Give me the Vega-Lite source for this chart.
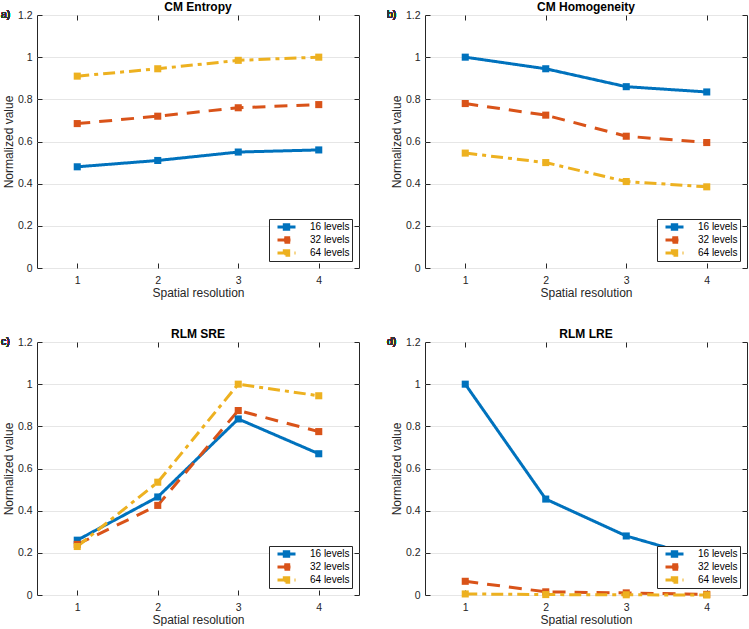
{
  "$schema": "https://vega.github.io/schema/vega-lite/v6.json",
  "background": "white",
  "padding": {"left": 0, "top": 0, "right": 0, "bottom": 0},
  "datasets": {
    "d": [
      {"metric": "CM Entropy", "levels": "16 levels", "resolution": 1, "value": 0.48},
      {"metric": "CM Entropy", "levels": "16 levels", "resolution": 2, "value": 0.51},
      {"metric": "CM Entropy", "levels": "16 levels", "resolution": 3, "value": 0.55},
      {"metric": "CM Entropy", "levels": "16 levels", "resolution": 4, "value": 0.56},
      {"metric": "CM Entropy", "levels": "32 levels", "resolution": 1, "value": 0.685},
      {"metric": "CM Entropy", "levels": "32 levels", "resolution": 2, "value": 0.72},
      {"metric": "CM Entropy", "levels": "32 levels", "resolution": 3, "value": 0.76},
      {"metric": "CM Entropy", "levels": "32 levels", "resolution": 4, "value": 0.775},
      {"metric": "CM Entropy", "levels": "64 levels", "resolution": 1, "value": 0.91},
      {"metric": "CM Entropy", "levels": "64 levels", "resolution": 2, "value": 0.945},
      {"metric": "CM Entropy", "levels": "64 levels", "resolution": 3, "value": 0.985},
      {"metric": "CM Entropy", "levels": "64 levels", "resolution": 4, "value": 1.0},
      {"metric": "CM Homogeneity", "levels": "16 levels", "resolution": 1, "value": 1.0},
      {"metric": "CM Homogeneity", "levels": "16 levels", "resolution": 2, "value": 0.945},
      {"metric": "CM Homogeneity", "levels": "16 levels", "resolution": 3, "value": 0.86},
      {"metric": "CM Homogeneity", "levels": "16 levels", "resolution": 4, "value": 0.835},
      {"metric": "CM Homogeneity", "levels": "32 levels", "resolution": 1, "value": 0.78},
      {"metric": "CM Homogeneity", "levels": "32 levels", "resolution": 2, "value": 0.725},
      {"metric": "CM Homogeneity", "levels": "32 levels", "resolution": 3, "value": 0.625},
      {"metric": "CM Homogeneity", "levels": "32 levels", "resolution": 4, "value": 0.595},
      {"metric": "CM Homogeneity", "levels": "64 levels", "resolution": 1, "value": 0.545},
      {"metric": "CM Homogeneity", "levels": "64 levels", "resolution": 2, "value": 0.5},
      {"metric": "CM Homogeneity", "levels": "64 levels", "resolution": 3, "value": 0.41},
      {"metric": "CM Homogeneity", "levels": "64 levels", "resolution": 4, "value": 0.385},
      {"metric": "RLM SRE", "levels": "16 levels", "resolution": 1, "value": 0.26},
      {"metric": "RLM SRE", "levels": "16 levels", "resolution": 2, "value": 0.465},
      {"metric": "RLM SRE", "levels": "16 levels", "resolution": 3, "value": 0.835},
      {"metric": "RLM SRE", "levels": "16 levels", "resolution": 4, "value": 0.67},
      {"metric": "RLM SRE", "levels": "32 levels", "resolution": 1, "value": 0.24},
      {"metric": "RLM SRE", "levels": "32 levels", "resolution": 2, "value": 0.425},
      {"metric": "RLM SRE", "levels": "32 levels", "resolution": 3, "value": 0.875},
      {"metric": "RLM SRE", "levels": "32 levels", "resolution": 4, "value": 0.775},
      {"metric": "RLM SRE", "levels": "64 levels", "resolution": 1, "value": 0.23},
      {"metric": "RLM SRE", "levels": "64 levels", "resolution": 2, "value": 0.535},
      {"metric": "RLM SRE", "levels": "64 levels", "resolution": 3, "value": 1.0},
      {"metric": "RLM SRE", "levels": "64 levels", "resolution": 4, "value": 0.945},
      {"metric": "RLM LRE", "levels": "16 levels", "resolution": 1, "value": 1.0},
      {"metric": "RLM LRE", "levels": "16 levels", "resolution": 2, "value": 0.455},
      {"metric": "RLM LRE", "levels": "16 levels", "resolution": 3, "value": 0.28},
      {"metric": "RLM LRE", "levels": "16 levels", "resolution": 4, "value": 0.17},
      {"metric": "RLM LRE", "levels": "32 levels", "resolution": 1, "value": 0.065},
      {"metric": "RLM LRE", "levels": "32 levels", "resolution": 2, "value": 0.015},
      {"metric": "RLM LRE", "levels": "32 levels", "resolution": 3, "value": 0.01},
      {"metric": "RLM LRE", "levels": "32 levels", "resolution": 4, "value": 0.003},
      {"metric": "RLM LRE", "levels": "64 levels", "resolution": 1, "value": 0.005},
      {"metric": "RLM LRE", "levels": "64 levels", "resolution": 2, "value": 0.002},
      {"metric": "RLM LRE", "levels": "64 levels", "resolution": 3, "value": 0.001},
      {"metric": "RLM LRE", "levels": "64 levels", "resolution": 4, "value": 0.0}
    ]
  },
  "data": {"name": "d"},
  "columns": 2,
  "spacing": {"row": 28, "column": 26},
  "resolve": {"legend": {"color": "independent", "strokeDash": "independent"}},
  "concat": [
    {
      "title": "CM Entropy",
      "width": 322, "height": 253,
      "resolve": {"axis": {"x": "independent", "y": "independent"}},
      "layer": [
        {
          "transform": [{"filter": "datum.metric === 'CM Entropy'"}],
          "mark": {"type": "line", "strokeWidth": 3, "point": {"shape": "square", "filled": true, "size": 50}},
          "encoding": {
            "x": {"field": "resolution", "type": "quantitative", "scale": {"domain": [0.5, 4.5]}, "axis": {"values": [1, 2, 3, 4], "format": "d", "title": "Spatial resolution", "grid": false, "labelPadding": 12, "titlePadding": 2}},
            "y": {"field": "value", "type": "quantitative", "scale": {"domain": [0, 1.2]}, "axis": {"values": [0, 0.2, 0.4, 0.6, 0.8, 1, 1.2], "format": "~g", "title": "Normalized value", "labelPadding": 10, "titlePadding": 2}},
            "color": {"field": "levels", "type": "nominal", "scale": {"domain": ["16 levels", "32 levels", "64 levels"], "range": ["#0072BD", "#D95319", "#EDB120"]}},
            "strokeDash": {"field": "levels", "type": "nominal", "scale": {"domain": ["16 levels", "32 levels", "64 levels"], "range": [[1, 0], [13, 9], [12, 5, 4, 5]]}}
          }
        },
        {
          "mark": {"type": "text", "text": "a)", "align": "left", "baseline": "middle", "dx": -36, "fontSize": 10.5, "fontWeight": "normal", "font": "Liberation Sans", "color": "#333333"},
          "encoding": {
            "x": {"datum": 0.5, "type": "quantitative", "axis": {"orient": "top", "values": [1, 2, 3, 4], "labels": false, "title": null, "grid": false, "labelPadding": 0}},
            "y": {"datum": 1.2, "type": "quantitative", "axis": {"orient": "right", "values": [0, 0.2, 0.4, 0.6, 0.8, 1, 1.2], "labels": false, "title": null, "grid": false, "labelPadding": 0, "minExtent": 0, "maxExtent": 0}}
          }
        }
      ]
    },
    {
      "title": "CM Homogeneity",
      "width": 322, "height": 253,
      "resolve": {"axis": {"x": "independent", "y": "independent"}},
      "layer": [
        {
          "transform": [{"filter": "datum.metric === 'CM Homogeneity'"}],
          "mark": {"type": "line", "strokeWidth": 3, "point": {"shape": "square", "filled": true, "size": 50}},
          "encoding": {
            "x": {"field": "resolution", "type": "quantitative", "scale": {"domain": [0.5, 4.5]}, "axis": {"values": [1, 2, 3, 4], "format": "d", "title": "Spatial resolution", "grid": false, "labelPadding": 12, "titlePadding": 2}},
            "y": {"field": "value", "type": "quantitative", "scale": {"domain": [0, 1.2]}, "axis": {"values": [0, 0.2, 0.4, 0.6, 0.8, 1, 1.2], "format": "~g", "title": "Normalized value", "labelPadding": 10, "titlePadding": 2}},
            "color": {"field": "levels", "type": "nominal", "scale": {"domain": ["16 levels", "32 levels", "64 levels"], "range": ["#0072BD", "#D95319", "#EDB120"]}},
            "strokeDash": {"field": "levels", "type": "nominal", "scale": {"domain": ["16 levels", "32 levels", "64 levels"], "range": [[1, 0], [13, 9], [12, 5, 4, 5]]}}
          }
        },
        {
          "mark": {"type": "text", "text": "b)", "align": "left", "baseline": "middle", "dx": -38, "fontSize": 10.5, "fontWeight": "normal", "font": "Liberation Sans", "color": "#333333"},
          "encoding": {
            "x": {"datum": 0.5, "type": "quantitative", "axis": {"orient": "top", "values": [1, 2, 3, 4], "labels": false, "title": null, "grid": false, "labelPadding": 0}},
            "y": {"datum": 1.2, "type": "quantitative", "axis": {"orient": "right", "values": [0, 0.2, 0.4, 0.6, 0.8, 1, 1.2], "labels": false, "title": null, "grid": false, "labelPadding": 0, "minExtent": 0, "maxExtent": 0}}
          }
        }
      ]
    },
    {
      "title": "RLM SRE",
      "width": 322, "height": 253,
      "resolve": {"axis": {"x": "independent", "y": "independent"}},
      "layer": [
        {
          "transform": [{"filter": "datum.metric === 'RLM SRE'"}],
          "mark": {"type": "line", "strokeWidth": 3, "point": {"shape": "square", "filled": true, "size": 50}},
          "encoding": {
            "x": {"field": "resolution", "type": "quantitative", "scale": {"domain": [0.5, 4.5]}, "axis": {"values": [1, 2, 3, 4], "format": "d", "title": "Spatial resolution", "grid": false, "labelPadding": 12, "titlePadding": 2}},
            "y": {"field": "value", "type": "quantitative", "scale": {"domain": [0, 1.2]}, "axis": {"values": [0, 0.2, 0.4, 0.6, 0.8, 1, 1.2], "format": "~g", "title": "Normalized value", "labelPadding": 10, "titlePadding": 2}},
            "color": {"field": "levels", "type": "nominal", "scale": {"domain": ["16 levels", "32 levels", "64 levels"], "range": ["#0072BD", "#D95319", "#EDB120"]}},
            "strokeDash": {"field": "levels", "type": "nominal", "scale": {"domain": ["16 levels", "32 levels", "64 levels"], "range": [[1, 0], [13, 9], [12, 5, 4, 5]]}}
          }
        },
        {
          "mark": {"type": "text", "text": "c)", "align": "left", "baseline": "middle", "dx": -36, "fontSize": 10.5, "fontWeight": "normal", "font": "Liberation Sans", "color": "#333333"},
          "encoding": {
            "x": {"datum": 0.5, "type": "quantitative", "axis": {"orient": "top", "values": [1, 2, 3, 4], "labels": false, "title": null, "grid": false, "labelPadding": 0}},
            "y": {"datum": 1.2, "type": "quantitative", "axis": {"orient": "right", "values": [0, 0.2, 0.4, 0.6, 0.8, 1, 1.2], "labels": false, "title": null, "grid": false, "labelPadding": 0, "minExtent": 0, "maxExtent": 0}}
          }
        }
      ]
    },
    {
      "title": "RLM LRE",
      "width": 322, "height": 253,
      "resolve": {"axis": {"x": "independent", "y": "independent"}},
      "layer": [
        {
          "transform": [{"filter": "datum.metric === 'RLM LRE'"}],
          "mark": {"type": "line", "strokeWidth": 3, "point": {"shape": "square", "filled": true, "size": 50}},
          "encoding": {
            "x": {"field": "resolution", "type": "quantitative", "scale": {"domain": [0.5, 4.5]}, "axis": {"values": [1, 2, 3, 4], "format": "d", "title": "Spatial resolution", "grid": false, "labelPadding": 12, "titlePadding": 2}},
            "y": {"field": "value", "type": "quantitative", "scale": {"domain": [0, 1.2]}, "axis": {"values": [0, 0.2, 0.4, 0.6, 0.8, 1, 1.2], "format": "~g", "title": "Normalized value", "labelPadding": 10, "titlePadding": 2}},
            "color": {"field": "levels", "type": "nominal", "scale": {"domain": ["16 levels", "32 levels", "64 levels"], "range": ["#0072BD", "#D95319", "#EDB120"]}},
            "strokeDash": {"field": "levels", "type": "nominal", "scale": {"domain": ["16 levels", "32 levels", "64 levels"], "range": [[1, 0], [13, 9], [12, 5, 4, 5]]}}
          }
        },
        {
          "mark": {"type": "text", "text": "d)", "align": "left", "baseline": "middle", "dx": -38, "fontSize": 10.5, "fontWeight": "normal", "font": "Liberation Sans", "color": "#333333"},
          "encoding": {
            "x": {"datum": 0.5, "type": "quantitative", "axis": {"orient": "top", "values": [1, 2, 3, 4], "labels": false, "title": null, "grid": false, "labelPadding": 0}},
            "y": {"datum": 1.2, "type": "quantitative", "axis": {"orient": "right", "values": [0, 0.2, 0.4, 0.6, 0.8, 1, 1.2], "labels": false, "title": null, "grid": false, "labelPadding": 0, "minExtent": 0, "maxExtent": 0}}
          }
        }
      ]
    }
  ],
  "config": {
    "font": "Liberation Sans",
    "view": {"stroke": "#262626", "strokeWidth": 1},
    "title": {"fontSize": 12, "fontWeight": "bold", "color": "#000000", "offset": -4, "font": "Liberation Sans"},
    "axis": {
      "domain": false,
      "tickSize": -5,
      "tickColor": "#262626",
      "labelPadding": 4,
      "labelFontSize": 10.5,
      "labelColor": "#262626",
      "labelFont": "Liberation Sans",
      "titleFontSize": 12,
      "titleFontWeight": "normal",
      "titleColor": "#262626",
      "titleFont": "Liberation Sans",
      "gridColor": "#e6e6e6",
      "titlePadding": 3
    },
    "legend": {
      "orient": "bottom-right",
      "offset": 7,
      "title": null,
      "fillColor": "white",
      "strokeColor": "#262626",
      "padding": 2,
      "labelFontSize": 10,
      "labelColor": "#000000",
      "labelFont": "Liberation Sans",
      "symbolType": "M-2.25,0H2.25M-0.55,-0.55H0.55V0.55H-0.55Z",
      "symbolSize": 64,
      "symbolStrokeWidth": 3,
      "symbolOffset": 10,
      "labelOffset": 18,
      "clipHeight": 12,
      "rowPadding": 1,
      "encode": {"symbols": {"update": {"fill": {"scale": "color", "field": "value"}, "fillOpacity": {"value": 1}, "strokeJoin": {"value": "bevel"}}}}
    }
  }
}
